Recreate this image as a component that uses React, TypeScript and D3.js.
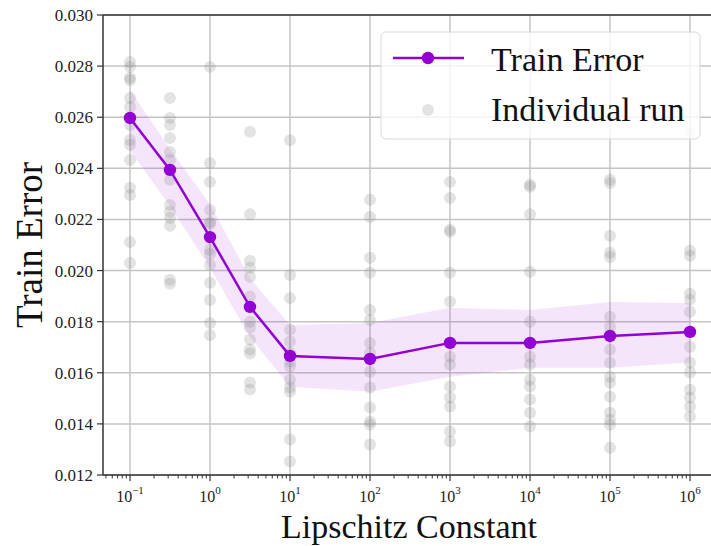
import React from 'react';
import * as d3 from 'd3';

// lipschitz constants swept
const lipschitz = [0.1, 0.316, 1, 3.16, 10, 100, 1e3, 1e4, 1e5, 1e6];

// mean train error per constant
const meanErr = [0.02597, 0.02394, 0.02131, 0.01858, 0.01666, 0.01654, 0.01717, 0.01717, 0.01744, 0.0176];

// shaded band (lower / upper)
const bandLow = [0.0247, 0.02253, 0.0201, 0.0174, 0.01545, 0.01526, 0.01584, 0.0162, 0.0162, 0.0164];
const bandHigh = [0.02707, 0.02476, 0.0226, 0.0197, 0.01787, 0.01795, 0.01854, 0.01846, 0.01877, 0.01873];

// individual runs, one list per constant
const runs = [
  [0.02816, 0.02797, 0.02754, 0.02746, 0.02675, 0.0264, 0.0257, 0.02511, 0.02492, 0.02433, 0.02324, 0.02296, 0.02112, 0.0203],
  [0.02675, 0.02597, 0.0257, 0.02519, 0.02464, 0.02433, 0.02355, 0.02257, 0.0223, 0.02206, 0.02175, 0.01964, 0.01948],
  [0.02797, 0.02421, 0.02347, 0.02237, 0.0219, 0.02183, 0.02081, 0.02065, 0.02022, 0.01952, 0.01885, 0.01795, 0.01748],
  [0.02543, 0.0222, 0.02038, 0.02011, 0.01976, 0.01898, 0.018, 0.01777, 0.0173, 0.01691, 0.01675, 0.01562, 0.01535],
  [0.0251, 0.01983, 0.01893, 0.01768, 0.01722, 0.01678, 0.01643, 0.01624, 0.01573, 0.01542, 0.01526, 0.01339, 0.01253],
  [0.02277, 0.0221, 0.0205, 0.01991, 0.01846, 0.01807, 0.01717, 0.01678, 0.01604, 0.01542, 0.01464, 0.01409, 0.01397, 0.01319],
  [0.02347, 0.02284, 0.0216, 0.02152, 0.01991, 0.01878, 0.01663, 0.01632, 0.01546, 0.01503, 0.01468, 0.0137, 0.01331],
  [0.02336, 0.02328, 0.0222, 0.01995, 0.018, 0.01663, 0.01632, 0.01573, 0.01546, 0.01495, 0.01444, 0.0139],
  [0.02355, 0.02343, 0.02136, 0.0207, 0.02053, 0.01819, 0.0178, 0.0169, 0.01639, 0.01584, 0.01561, 0.01506, 0.01444, 0.01416, 0.01397, 0.01307],
  [0.02539, 0.02078, 0.02058, 0.01909, 0.01886, 0.01839, 0.01702, 0.0164, 0.01601, 0.01534, 0.01503, 0.01468, 0.01429],
];

const yTicks = [0.012, 0.014, 0.016, 0.018, 0.02, 0.022, 0.024, 0.026, 0.028, 0.03];
const xExponents = [-1, 0, 1, 2, 3, 4, 5, 6];

const W = 711;
const H = 546;
const left = 103, right = 713, top = 15, bottom = 475;
const serif = '"Liberation Serif", "DejaVu Serif", serif';
const purple = '#9400D3';

export default function App() {
  const x = d3.scaleLog().domain([Math.pow(10, -1.3375), Math.pow(10, 6.2875)]).range([left, right]);
  const y = d3.scaleLinear().domain([0.012, 0.03]).range([bottom, top]);

  const minor: number[] = [];
  for (let e = -2; e <= 6; e++) {
    for (let m = 2; m <= 9; m++) {
      const v = m * Math.pow(10, e);
      if (x(v) >= left && x(v) <= W) minor.push(v);
    }
  }

  const line = d3.line<number>().x((_, i) => x(lipschitz[i])).y(d => y(d));
  const area = d3.area<number>()
    .x((_, i) => x(lipschitz[i]))
    .y0((_, i) => y(bandLow[i]))
    .y1((_, i) => y(bandHigh[i]));

  return (
    <svg width={W} height={H} style={{ position: 'absolute', left: 0, top: 0, background: '#fff' }}>
      {/* grid */}
      {yTicks.map(t => (
        <line key={'gy' + t} x1={left} x2={W} y1={y(t)} y2={y(t)} stroke="#c4c4c4" strokeWidth={1.5} />
      ))}
      {xExponents.map(e => (
        <line key={'gx' + e} x1={x(Math.pow(10, e))} x2={x(Math.pow(10, e))} y1={top} y2={bottom} stroke="#c4c4c4" strokeWidth={1.5} />
      ))}

      {/* band */}
      <path d={area(meanErr) || ''} fill={purple} fillOpacity={0.1} />

      {/* individual runs */}
      {runs.map((col, i) =>
        col.map((v, j) => (
          <circle key={i + '-' + j} cx={x(lipschitz[i])} cy={y(v)} r={6} fill="gray" fillOpacity={0.22} />
        ))
      )}

      {/* mean line */}
      <path d={line(meanErr) || ''} fill="none" stroke={purple} strokeWidth={2.5} />
      {meanErr.map((v, i) => (
        <circle key={'m' + i} cx={x(lipschitz[i])} cy={y(v)} r={6.2} fill={purple} />
      ))}

      {/* spines */}
      <line x1={left} x2={W} y1={top} y2={top} stroke="#333" strokeWidth={1.5} />
      <line x1={left} x2={W} y1={bottom} y2={bottom} stroke="#333" strokeWidth={1.5} />
      <line x1={left} x2={left} y1={top} y2={bottom} stroke="#333" strokeWidth={1.5} />

      {/* y ticks */}
      {yTicks.map(t => (
        <g key={'yt' + t}>
          <line x1={left - 6} x2={left} y1={y(t)} y2={y(t)} stroke="#333" strokeWidth={1.2} />
          <text x={left - 10} y={y(t)} dy="0.35em" textAnchor="end" fontFamily={serif} fontSize={17} fill="#222">
            {d3.format('.3f')(t)}
          </text>
        </g>
      ))}

      {/* x ticks */}
      {minor.map(v => (
        <line key={'mn' + v} x1={x(v)} x2={x(v)} y1={bottom} y2={bottom + 3.5} stroke="#333" strokeWidth={1} />
      ))}
      {xExponents.map(e => (
        <g key={'xt' + e}>
          <line x1={x(Math.pow(10, e))} x2={x(Math.pow(10, e))} y1={bottom} y2={bottom + 6} stroke="#333" strokeWidth={1.2} />
          <text x={x(Math.pow(10, e))} y={502} textAnchor="middle" fontFamily={serif} fontSize={16} fill="#222">
            10<tspan dy={-8} fontSize={11}>{e < 0 ? '\u2212' + Math.abs(e) : e}</tspan>
          </text>
        </g>
      ))}

      {/* axis labels */}
      <text x={409} y={538} textAnchor="middle" fontFamily={serif} fontSize={34} fill="#111">Lipschitz Constant</text>
      <text transform="translate(42,245) rotate(-90)" textAnchor="middle" fontFamily={serif} fontSize={37} fill="#111">Train Error</text>

      {/* legend */}
      <rect x={381} y={32} width={319} height={107} rx={5} fill="#fff" fillOpacity={0.8} stroke="#d8d8d8" strokeWidth={1} />
      <line x1={393} x2={464} y1={58} y2={58} stroke={purple} strokeWidth={2.5} />
      <circle cx={428} cy={58} r={6.2} fill={purple} />
      <circle cx={428} cy={110} r={6} fill="gray" fillOpacity={0.22} />
      <text x={491} y={71} fontFamily={serif} fontSize={34} fill="#111">Train Error</text>
      <text x={491} y={121} fontFamily={serif} fontSize={34} fill="#111">Individual run</text>
    </svg>
  );
}
